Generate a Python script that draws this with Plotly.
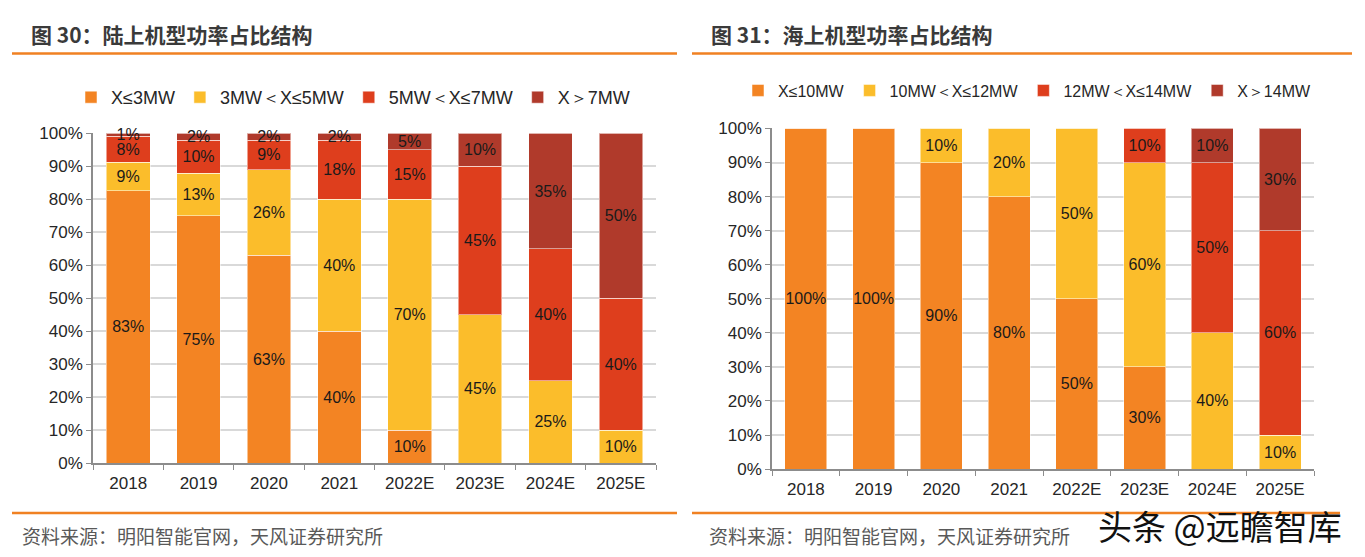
import plotly.graph_objects as go

years = ["2018", "2019", "2020", "2021", "2022E", "2023E", "2024E", "2025E"]

# 图30 陆上机型功率占比（%）
on_names = ["X≤3MW", "3MW＜X≤5MW", "5MW＜X≤7MW", "X＞7MW"]
on_s1 = [82.6, 75, 63, 40, 10, 0, 0, 0]
on_s2 = [8.6, 13, 26, 40, 70, 45, 25, 10]
on_s3 = [8.0, 10, 9, 18, 15, 45, 40, 40]
on_s4 = [0.8, 2, 2, 2, 5, 10, 35, 50]

# 图31 海上机型功率占比（%）
off_names = ["X≤10MW", "10MW＜X≤12MW", "12MW＜X≤14MW", "X＞14MW"]
off_s1 = [100, 100, 90, 80, 50, 30, 0, 0]
off_s2 = [0, 0, 10, 20, 50, 60, 40, 10]
off_s3 = [0, 0, 0, 0, 0, 10, 50, 60]
off_s4 = [0, 0, 0, 0, 0, 0, 10, 30]

yticks = [0, 10, 20, 30, 40, 50, 60, 70, 80, 90, 100]
ytick_text = [f"{v}%" for v in yticks]

colors = ["#F38423", "#FBBD2B", "#DE3E1D", "#B03A2B"]
NARROW = "Liberation Sans Narrow, Arial Narrow, Liberation Sans, sans-serif"
CJK = "Noto Sans CJK SC, sans-serif"

fig = go.Figure()

def add_group(series, names, xaxis, yaxis, legend):
    for vals, name, col in zip(series, names, colors):
        fig.add_trace(go.Bar(
            x=years, y=vals, name=name,
            marker=dict(color=col, line=dict(color="rgba(255,255,255,0.5)", width=1)),
            text=[f"{round(v)}%" if v > 0 else "" for v in vals],
            textposition="inside", insidetextanchor="middle", textangle=0,
            textfont=dict(family=NARROW, size=16, color="#1a1a1a"),
            xaxis=xaxis, yaxis=yaxis, legend=legend,
            cliponaxis=False, hoverinfo="skip",
        ))

add_group([on_s1, on_s2, on_s3, on_s4], on_names, "x", "y", "legend")
add_group([off_s1, off_s2, off_s3, off_s4], off_names, "x2", "y2", "legend2")

W, H = 1365, 557
# observed render: paper spans ~538.6 px vertically starting ~8.4 px from top
Y0, HP = 8.4, 538.6
def fx(px): return px / W
def fy(py): return 1 - (py - Y0) / HP

axis_common = dict(
    showline=True, linecolor="#8C8C8C", linewidth=1.5,
    ticks="outside", tickcolor="#8C8C8C", ticklen=5,
    tickfont=dict(family=NARROW, size=17, color="#262626"),
)

fig.update_layout(
    width=W, height=H,
    margin=dict(l=0, r=0, t=0, b=0),
    paper_bgcolor="white", plot_bgcolor="white",
    barmode="stack", bargap=0.38,
    uniformtext=dict(minsize=16, mode="show"),
    xaxis=dict(domain=[fx(93), fx(656)], type="category", tickson="boundaries",
               ticklabelstandoff=4, **axis_common),
    yaxis=dict(domain=[fy(463), fy(133)], range=[0, 100], tickvals=yticks, ticktext=ytick_text,
               showgrid=True, gridcolor="#D9D9D9", gridwidth=1.5, **axis_common),
    xaxis2=dict(domain=[fx(772), fx(1314)], type="category", tickson="boundaries", anchor="y2",
                ticklabelstandoff=4, **axis_common),
    yaxis2=dict(domain=[fy(469), fy(128)], range=[0, 100], tickvals=yticks, ticktext=ytick_text, anchor="x2",
                showgrid=True, gridcolor="#D9D9D9", gridwidth=1.5, **axis_common),
    legend=dict(orientation="h", x=fx(71), y=fy(97), xanchor="left", yanchor="middle",
                font=dict(family=NARROW, size=18, color="#262626"), itemwidth=30,
                traceorder="normal", bgcolor="rgba(0,0,0,0)"),
    legend2=dict(orientation="h", x=fx(738), y=fy(90), xanchor="left", yanchor="middle",
                 font=dict(family=NARROW, size=16, color="#262626"), itemwidth=30,
                 traceorder="normal", bgcolor="rgba(0,0,0,0)"),
    showlegend=True,
)

shapes = []
for x0, x1 in [(12, 677), (692, 1352)]:
    shapes.append(dict(type="line", xref="paper", yref="paper", x0=fx(x0), x1=fx(x1), y0=fy(53), y1=fy(53),
                       line=dict(color="#F08122", width=2.5)))
for x0, x1 in [(12, 677), (692, 1340)]:
    shapes.append(dict(type="line", xref="paper", yref="paper", x0=fx(x0), x1=fx(x1), y0=fy(513), y1=fy(513),
                       line=dict(color="#F08122", width=2.5)))
fig.update_layout(shapes=shapes)

ann = [
    dict(text="<b>图 30：陆上机型功率占比结构</b>", x=fx(30), y=fy(33), font=dict(family=CJK, size=21, color="#3A3A3A")),
    dict(text="<b>图 31：海上机型功率占比结构</b>", x=fx(710), y=fy(33), font=dict(family=CJK, size=21, color="#3A3A3A")),
    dict(text="资料来源：明阳智能官网，天风证券研究所", x=fx(21), y=fy(535), font=dict(family=CJK, size=19, color="#595959")),
    dict(text="资料来源：明阳智能官网，天风证券研究所", x=fx(708), y=fy(535), font=dict(family=CJK, size=19, color="#595959")),
    dict(text="头条 @远瞻智库", x=fx(1097), y=fy(525), font=dict(family=CJK, size=34, color="#111111")),
]
for a in ann:
    fig.add_annotation(xref="paper", yref="paper", xanchor="left", yanchor="middle", showarrow=False,
                       borderpad=0, **a)

fig.write_html("out.html", config={"displayModeBar": False},
               post_script="document.body.style.margin='0';document.body.style.overflow='hidden';")
